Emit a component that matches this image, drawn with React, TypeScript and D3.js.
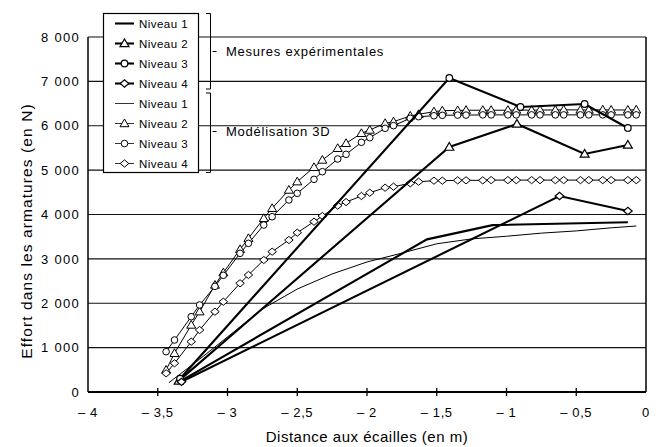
import React, { useRef, useEffect } from 'react';
import * as d3 from 'd3';

// axis ticks
const xTicks = [-4, -3.5, -3, -2.5, -2, -1.5, -1, -0.5, 0];
const xTickLabels = ['– 4', '– 3,5', '– 3', '– 2,5', '– 2', '– 1,5', '– 1', '– 0,5', '0'];
const yTicks = [0, 1000, 2000, 3000, 4000, 5000, 6000, 7000, 8000];
const yTickLabels = ['0', '1 000', '2 000', '3 000', '4 000', '5 000', '6 000', '7 000', '8 000'];

// mesures expérimentales
const mesN1X = [-3.34, -1.57, -1.1, -0.13];
const mesN1Y = [240, 3440, 3760, 3825];
const mesN2X = [-3.35, -1.41, -0.925, -0.44, -0.13];
const mesN2Y = [250, 5520, 6040, 5363, 5566];
const mesN3X = [-3.34, -1.41, -0.9, -0.44, -0.13];
const mesN3Y = [300, 7076, 6423, 6490, 5950];
const mesN4X = [-3.33, -0.62, -0.13];
const mesN4Y = [230, 4417, 4079];

// modélisation 3D
const modX = [-3.44, -3.38, -3.26, -3.2, -3.09, -3.03, -2.91, -2.85, -2.74, -2.68,
  -2.56, -2.5, -2.38, -2.32, -2.21, -2.15, -2.04, -1.98, -1.87, -1.81,
  -1.69, -1.63, -1.52, -1.46, -1.35, -1.29, -1.17, -1.11, -0.99, -0.93,
  -0.82, -0.76, -0.65, -0.59, -0.47, -0.41, -0.31, -0.25, -0.13, -0.07];
const modN2 = [496, 872, 1510, 1810, 2411, 2689, 3215, 3463, 3914, 4140,
  4552, 4740, 5063, 5228, 5492, 5604, 5830, 5904, 6055, 6092,
  6220, 6258, 6317, 6340, 6345, 6350, 6350, 6350, 6350, 6355,
  6350, 6355, 6355, 6360, 6355, 6355, 6360, 6355, 6355, 6360];
const modN3 = [908, 1172, 1697, 1961, 2380, 2630, 3125, 3350, 3763, 3950,
  4327, 4477, 4792, 4964, 5251, 5356, 5627, 5731, 5942, 6002,
  6168, 6204, 6225, 6235, 6240, 6240, 6245, 6245, 6245, 6245,
  6245, 6245, 6245, 6245, 6245, 6245, 6245, 6245, 6245, 6245];
const modN4 = [421, 647, 1134, 1397, 1810, 2035, 2450, 2637, 2975, 3162,
  3425, 3590, 3838, 3966, 4200, 4280, 4417, 4491, 4604, 4627,
  4703, 4739, 4762, 4762, 4770, 4770, 4770, 4775, 4775, 4775,
  4775, 4775, 4775, 4775, 4775, 4775, 4775, 4775, 4775, 4775];
const modN1X = [-3.42, -3.2, -3.0, -2.75, -2.5, -2.25, -2.0, -1.75, -1.5, -1.25, -1.0, -0.75, -0.5, -0.25, -0.07];
const modN1Y = [210, 740, 1240, 1870, 2320, 2660, 2930, 3130, 3340, 3450, 3510, 3580, 3630, 3700, 3740];

const legendLabels = ['Niveau 1', 'Niveau 2', 'Niveau 3', 'Niveau 4', 'Niveau 1', 'Niveau 2', 'Niveau 3', 'Niveau 4'];

const FONT = '"Liberation Sans", Arial, Helvetica, sans-serif';

const drawMarker = (g, type, cx, cy, sw) => {
  if (type === 'tri') {
    g.append('path')
      .attr('d', `M${cx},${cy - 4.5}L${cx + 4.5},${cy + 3.2}L${cx - 4.5},${cy + 3.2}Z`)
      .attr('fill', '#fff').attr('stroke', '#000').attr('stroke-width', sw);
  } else if (type === 'circle') {
    g.append('circle').attr('cx', cx).attr('cy', cy).attr('r', 3.3)
      .attr('fill', '#fff').attr('stroke', '#000').attr('stroke-width', sw);
  } else if (type === 'diamond') {
    g.append('path')
      .attr('d', `M${cx - 4.3},${cy}L${cx},${cy - 3.6}L${cx + 4.3},${cy}L${cx},${cy + 3.6}Z`)
      .attr('fill', '#fff').attr('stroke', '#000').attr('stroke-width', sw);
  }
};

const App = () => {
  const svgRef = useRef();

  useEffect(() => {
    const svg = d3.select(svgRef.current);
    svg.selectAll('*').remove();

    const x = d3.scaleLinear().domain([-4, 0]).range([88, 646]);
    const y = d3.scaleLinear().domain([0, 8000]).range([392, 37]);

    // gridlines
    svg.append('g').selectAll('line')
      .data(yTicks.filter(d => d > 0))
      .join('line')
      .attr('x1', x(-4)).attr('x2', x(0))
      .attr('y1', d => y(d)).attr('y2', d => y(d))
      .attr('stroke', '#111').attr('stroke-width', 1.1);

    // axes frame
    svg.append('line').attr('x1', x(-4)).attr('x2', x(-4)).attr('y1', y(8000)).attr('y2', y(0))
      .attr('stroke', '#000').attr('stroke-width', 1.5);
    svg.append('line').attr('x1', x(0)).attr('x2', x(0)).attr('y1', y(8000)).attr('y2', y(0))
      .attr('stroke', '#000').attr('stroke-width', 1.5);
    svg.append('line').attr('x1', x(-4)).attr('x2', x(0)).attr('y1', y(0)).attr('y2', y(0))
      .attr('stroke', '#000').attr('stroke-width', 1.8);

    svg.append('g').selectAll('line')
      .data(xTicks.slice(1, -1))
      .join('line')
      .attr('x1', d => x(d)).attr('x2', d => x(d))
      .attr('y1', y(0) - 4).attr('y2', y(0) + 4)
      .attr('stroke', '#000').attr('stroke-width', 1.3);

    svg.append('g').selectAll('text')
      .data(xTicks)
      .join('text')
      .attr('x', d => x(d)).attr('y', 417)
      .attr('text-anchor', 'middle')
      .attr('font-family', FONT).attr('font-size', 13).attr('letter-spacing', 0.6)
      .text((d, i) => xTickLabels[i]);

    svg.append('g').selectAll('text')
      .data(yTicks)
      .join('text')
      .attr('x', 80).attr('y', d => y(d) + 4.7)
      .attr('text-anchor', 'end')
      .attr('font-family', FONT).attr('font-size', 13).attr('letter-spacing', 1.3)
      .text((d, i) => yTickLabels[i]);

    // axis titles
    svg.append('text')
      .attr('x', 367).attr('y', 442)
      .attr('text-anchor', 'middle')
      .attr('font-family', FONT).attr('font-size', 15).attr('letter-spacing', 0.5)
      .text('Distance aux écailles (en m)');
    svg.append('text')
      .attr('transform', `translate(32,${231}) rotate(-90)`)
      .attr('text-anchor', 'middle')
      .attr('font-family', FONT).attr('font-size', 15.5).attr('letter-spacing', 1.1)
      .text('Effort dans les armatures (en N)');

    const line = d3.line().x(d => x(d[0])).y(d => y(d[1]));
    const zip = (xs, ys) => xs.map((v, i) => [v, ys[i]]);

    // modélisation 3D (thin lines)
    const model = [
      { pts: zip(modN1X, modN1Y), marker: null },
      { pts: zip(modX, modN2), marker: 'tri' },
      { pts: zip(modX, modN3), marker: 'circle' },
      { pts: zip(modX, modN4), marker: 'diamond' },
    ];
    const mod = svg.append('g');
    model.forEach(s => {
      mod.append('path').datum(s.pts).attr('d', line)
        .attr('fill', 'none').attr('stroke', '#000').attr('stroke-width', 1);
    });

    // mesures (thick lines)
    const measured = [
      { pts: zip(mesN1X, mesN1Y), marker: null },
      { pts: zip(mesN2X, mesN2Y), marker: 'tri' },
      { pts: zip(mesN3X, mesN3Y), marker: 'circle' },
      { pts: zip(mesN4X, mesN4Y), marker: 'diamond' },
    ];
    const mes = svg.append('g');
    measured.forEach(s => {
      mes.append('path').datum(s.pts).attr('d', line)
        .attr('fill', 'none').attr('stroke', '#000').attr('stroke-width', 2.1);
    });

    model.forEach(s => {
      if (!s.marker) return;
      s.pts.forEach(p => drawMarker(mod, s.marker, x(p[0]), y(p[1]), 1));
    });
    measured.forEach(s => {
      if (!s.marker) return;
      s.pts.forEach(p => drawMarker(mes, s.marker, x(p[0]), y(p[1]), 1.2));
    });

    // legend
    const lg = svg.append('g');
    lg.append('rect').attr('x', 103.5).attr('y', 13.5).attr('width', 95).attr('height', 159)
      .attr('fill', '#fff').attr('stroke', '#000').attr('stroke-width', 1.2);
    const legendMarkers = [null, 'tri', 'circle', 'diamond', null, 'tri', 'circle', 'diamond'];
    legendLabels.forEach((lab, i) => {
      const cy = 23.5 + i * 20;
      const thick = i < 4;
      lg.append('line').attr('x1', 115).attr('x2', 134).attr('y1', cy).attr('y2', cy)
        .attr('stroke', thick ? '#000' : '#333').attr('stroke-width', thick ? 2.1 : 1);
      if (legendMarkers[i]) drawMarker(lg, legendMarkers[i], 124.5, cy, thick ? 1.2 : 1);
      lg.append('text').attr('x', 139).attr('y', cy + 4.2)
        .attr('font-family', FONT).attr('font-size', 11.5).attr('letter-spacing', 0.45)
        .text(lab);
    });

    // brackets
    const br = svg.append('g').attr('fill', 'none').attr('stroke', '#000').attr('stroke-width', 1);
    br.append('path').attr('d', 'M206,13.5H210.5V89H206');
    br.append('path').attr('d', 'M212.5,51.5H216.5');
    br.append('path').attr('d', 'M206,93H210.5V172.5H206');
    br.append('path').attr('d', 'M212.5,131.5H216.5');

    svg.append('text').attr('x', 226).attr('y', 56)
      .attr('font-family', FONT).attr('font-size', 13).attr('letter-spacing', 0.75)
      .text('Mesures expérimentales');
    svg.append('text').attr('x', 226).attr('y', 136)
      .attr('font-family', FONT).attr('font-size', 13).attr('letter-spacing', 0.75)
      .text('Modélisation 3D');
  }, []);

  return (
    <svg ref={svgRef} width={656} height={447}
      style={{ position: 'absolute', left: 0, top: 0, background: '#fff' }} />
  );
};

export default App;
